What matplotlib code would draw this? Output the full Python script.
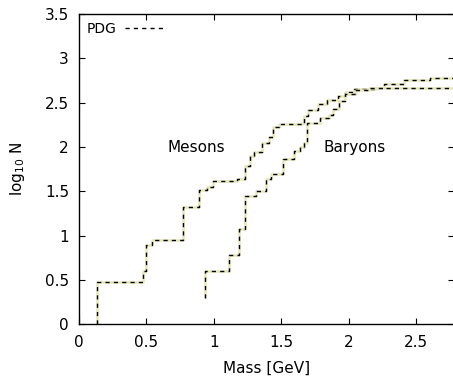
import matplotlib
matplotlib.use('Agg')
import matplotlib.pyplot as plt

# step data (mass in GeV, log10 of cumulative count)
meson_mass = [0.139, 0.139, 0.475, 0.497, 0.545, 0.772, 0.891, 0.95, 0.995, 1.17,
              1.23, 1.265, 1.30, 1.36, 1.41, 1.44, 1.48, 1.65, 1.67, 1.70,
              1.77, 1.84, 1.92, 1.97, 2.04, 2.20, 2.78]
meson_logn = [0.0, 0.477, 0.60, 0.90, 0.954, 1.322, 1.519, 1.544, 1.613, 1.643,
              1.79, 1.90, 1.94, 2.05, 2.11, 2.22, 2.26, 2.27, 2.35, 2.42,
              2.49, 2.53, 2.58, 2.62, 2.65, 2.66, 2.66]

baryon_mass = [0.938, 0.938, 1.115, 1.19, 1.23, 1.315, 1.385, 1.42, 1.515, 1.595,
               1.635, 1.665, 1.69, 1.79, 1.85, 1.88, 1.93, 1.97, 2.05, 2.15,
               2.26, 2.41, 2.60, 2.78]
baryon_logn = [0.301, 0.602, 0.778, 1.079, 1.447, 1.505, 1.643, 1.70, 1.869, 1.954,
               2.0, 2.05, 2.27, 2.33, 2.36, 2.43, 2.52, 2.60, 2.645, 2.67,
               2.71, 2.75, 2.78, 2.78]

x_ticks = [0, 0.5, 1, 1.5, 2, 2.5]
y_ticks = [0, 0.5, 1, 1.5, 2, 2.5, 3, 3.5]

fig = plt.figure(figsize=(4.53, 3.77), dpi=100)
ax = fig.add_axes([0.1737, 0.1398, 0.829, 0.8231])

under = '#e6e6b8'
for xs, ys in [(meson_mass, meson_logn), (baryon_mass, baryon_logn)]:
    ax.plot(xs, ys, drawstyle='steps-post', color=under, lw=1.8, solid_capstyle='butt')
    ax.plot(xs, ys, drawstyle='steps-post', color='black', lw=1.0, dashes=(3, 3))

ax.plot([], [], color='black', lw=1.0, dashes=(3, 3), label='PDG')
ax.legend(loc='upper left', frameon=False, markerfirst=False, fontsize=10,
          handlelength=2.9, borderaxespad=0.5, borderpad=0.1, handletextpad=0.6)

ax.text(0.87, 1.99, 'Mesons', fontsize=11, ha='center', va='center')
ax.text(2.04, 1.99, 'Baryons', fontsize=11, ha='center', va='center')

ax.set_xlim(0, 2.78)
ax.set_ylim(0, 3.5)
ax.set_xticks(x_ticks)
ax.set_xticklabels(['0', '0.5', '1', '1.5', '2', '2.5'])
ax.set_yticks(y_ticks)
ax.set_yticklabels(['0', '0.5', '1', '1.5', '2', '2.5', '3', '3.5'])
ax.tick_params(direction='in', length=4.5, width=0.8, top=True, right=True,
               labelsize=11, colors='black')
ax.tick_params(axis='y', pad=7)
ax.tick_params(axis='x', pad=8)
for s in ax.spines.values():
    s.set_linewidth(1.0)

ax.set_xlabel('Mass [GeV]', fontsize=11)
ax.set_ylabel('log$_{10}$ N', fontsize=11)
ax.xaxis.set_label_coords(0.5, -0.141)
ax.yaxis.set_label_coords(-0.162, 0.5)
ax.xaxis.label.set_va('center')
ax.yaxis.label.set_va('center')

fig.savefig('out.png', dpi=100)
